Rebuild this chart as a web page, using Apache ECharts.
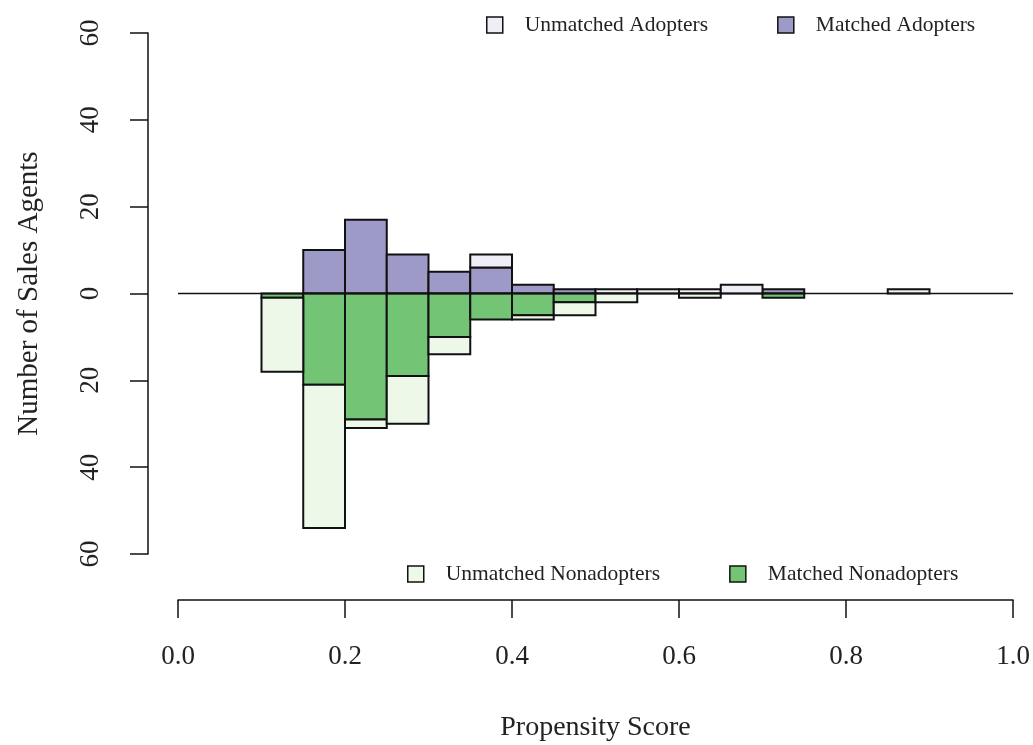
<!DOCTYPE html>
<html>
<head>
<meta charset="utf-8">
<script src="https://cdn.jsdelivr.net/npm/echarts@6/dist/echarts.min.js"></script>
<style>
html,body{margin:0;padding:0;background:#fff;}
#chart{width:1033px;height:745px;}
</style>
</head>
<body>
<div id="chart"></div>
<script>
// Histogram bins (left edges), width 0.05
const binStarts = [0.10,0.15,0.20,0.25,0.30,0.35,0.40,0.45,0.50,0.55,0.60,0.65,0.70,0.75,0.80,0.85];
const binWidth = 0.05;
const matchedAdopters      = [0,10,17, 9, 5, 6, 2, 1, 0, 0, 0, 0, 1, 0, 0, 0];
const unmatchedAdopters    = [0, 0, 0, 0, 0, 3, 0, 0, 1, 1, 1, 2, 0, 0, 0, 1];
const matchedNonadopters   = [1,21,29,19,10, 6, 5, 2, 0, 0, 0, 0, 1, 0, 0, 0];
const unmatchedNonadopters = [17,33,2,11, 4, 0, 1, 3, 2, 0, 1, 0, 0, 0, 0, 0];
const xTicks = [0.0,0.2,0.4,0.6,0.8,1.0];
const yTicks = [-60,-40,-20,0,20,40,60];

const C_MA = '#9e9ac8', C_UA = '#efedf5', C_MN = '#74c476', C_UN = '#edf8e9';
const FONT = 'Liberation Serif';

function segs(base, vals, sign){
  const out = [];
  vals.forEach((v,i)=>{
    if(v>0){
      const b = base ? base[i] : 0;
      out.push([binStarts[i], sign*b, sign*(b+v)]);
    }
  });
  return out;
}

function renderBar(params, api){
  const x0 = api.value(0), a = api.value(1), b = api.value(2);
  const p1 = api.coord([x0, a]);
  const p2 = api.coord([x0 + binWidth, b]);
  return {
    type:'rect',
    shape:{x:p1[0], y:Math.min(p1[1],p2[1]), width:p2[0]-p1[0], height:Math.abs(p2[1]-p1[1])},
    style:{fill: api.visual('color'), stroke:'#111', lineWidth:2}
  };
}

function barSeries(name, color, data){
  return {
    name, type:'custom', renderItem:renderBar,
    itemStyle:{color, borderColor:'#111', borderWidth:1.5},
    encode:{x:0, y:[1,2]}, data, z:2
  };
}

const chart = echarts.init(document.getElementById('chart'));
const legendText = {fontFamily:FONT, fontSize:21.5, color:'#222', padding:[0,0,0,17]};
chart.setOption({
  animation:false,
  backgroundColor:'#fff',
  grid:{left:178, right:20, top:33, bottom:191, containLabel:false, outerBoundsMode:'none'},
  legend:[
    {left:486, top:14, padding:0, itemWidth:16, itemHeight:16, itemGap:69, icon:'rect',
     selectedMode:false, textStyle:legendText,
     data:[{name:'Unmatched Adopters', itemStyle:{color:C_UA, borderColor:'#111', borderWidth:1.5}},
           {name:'Matched Adopters', itemStyle:{color:C_MA, borderColor:'#111', borderWidth:1.5}}]},
    {left:407, top:563, padding:0, itemWidth:16, itemHeight:16, itemGap:69, icon:'rect',
     selectedMode:false, textStyle:legendText,
     data:[{name:'Unmatched Nonadopters', itemStyle:{color:C_UN, borderColor:'#111', borderWidth:1.5}},
           {name:'Matched Nonadopters', itemStyle:{color:C_MN, borderColor:'#111', borderWidth:1.5}}]}
  ],
  xAxis:{
    type:'value', min:0, max:1, interval:0.2, offset:46,
    name:'Propensity Score', nameLocation:'middle', nameGap:114,
    nameTextStyle:{fontFamily:FONT, fontSize:28, color:'#222'},
    axisLine:{show:true, onZero:false, lineStyle:{color:'#111', width:1.5}},
    axisTick:{show:true, length:18, lineStyle:{color:'#111', width:1.5}},
    axisLabel:{margin:43, fontFamily:FONT, fontSize:27, color:'#222',
      customValues: xTicks, formatter:v=>Number(v).toFixed(1)},
    splitLine:{show:false}
  },
  yAxis:{
    type:'value', min:-60, max:60, interval:20, offset:30,
    name:'Number of Sales Agents', nameLocation:'middle', nameGap:104,
    nameTextStyle:{fontFamily:FONT, fontSize:29, color:'#222'},
    axisLine:{show:true, onZero:false, lineStyle:{color:'#111', width:1.5}},
    axisTick:{show:true, length:18, lineStyle:{color:'#111', width:1.5}},
    axisLabel:{margin:44, rotate:90, fontFamily:FONT, fontSize:27, color:'#222',
      customValues: yTicks, formatter:v=>String(Math.abs(v))},
    splitLine:{show:false}
  },
  series:[
    barSeries('Matched Adopters', C_MA, segs(null, matchedAdopters, 1)),
    barSeries('Unmatched Adopters', C_UA, segs(matchedAdopters, unmatchedAdopters, 1)),
    barSeries('Matched Nonadopters', C_MN, segs(null, matchedNonadopters, -1)),
    barSeries('Unmatched Nonadopters', C_UN, segs(matchedNonadopters, unmatchedNonadopters, -1)),
    {type:'line', data:[[0,0],[1,0]], symbol:'none', silent:true, z:3,
     lineStyle:{color:'#111', width:1.5}}
  ]
});
</script>
</body>
</html>
